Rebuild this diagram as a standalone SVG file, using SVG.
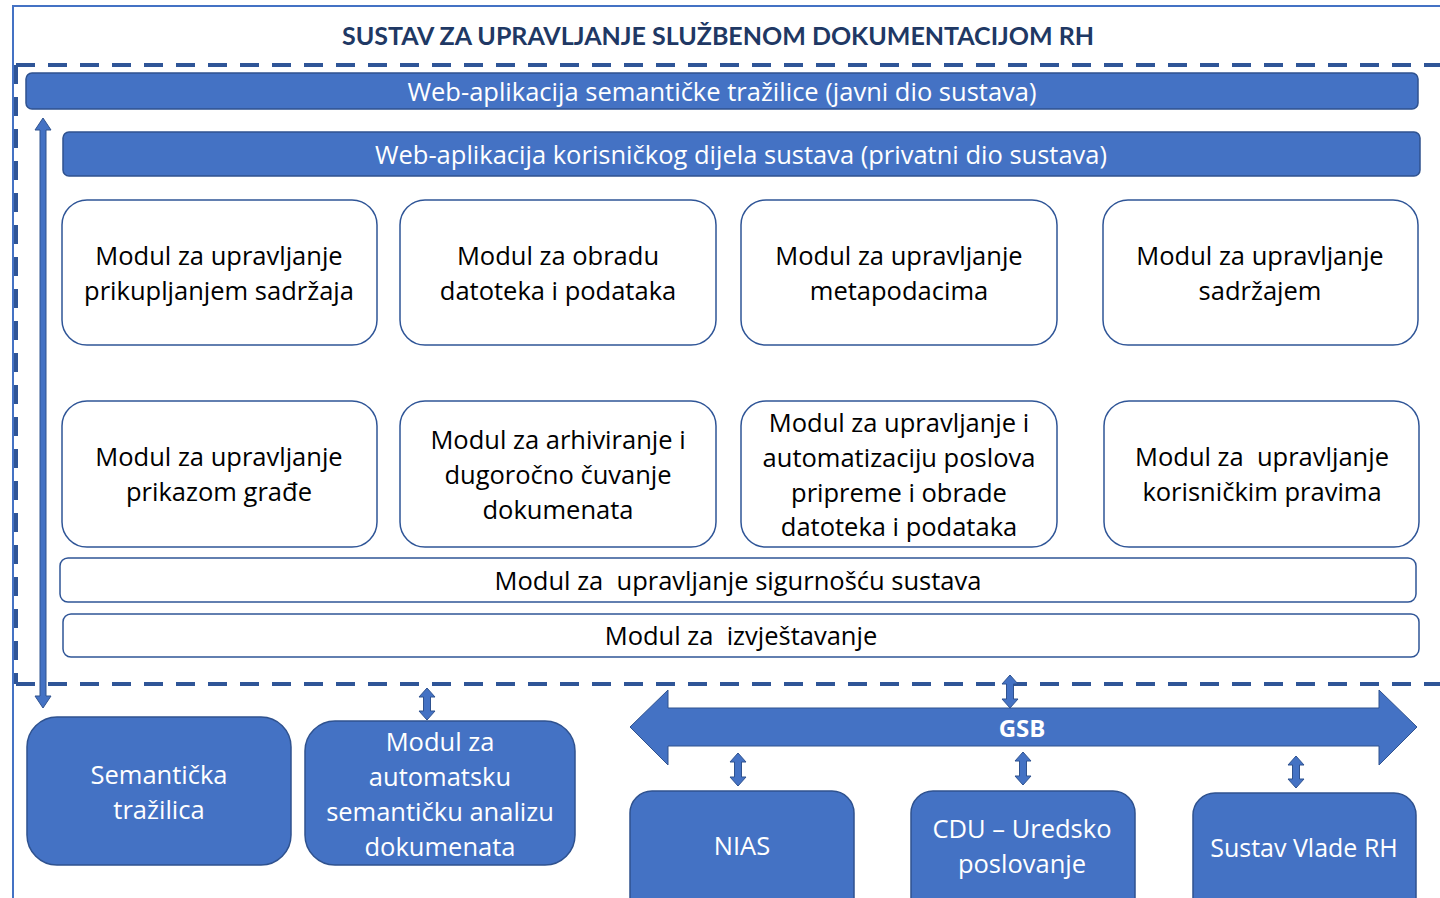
<svg xmlns="http://www.w3.org/2000/svg" width="1440" height="898" viewBox="0 0 1440 898">
<style>
.t{font-family:"Open Sans",Lato,"Liberation Sans",sans-serif;font-size:25.5px;text-anchor:middle;dominant-baseline:central;fill:#000}
.w{fill:#fff}
.bar{fill:#4472C4;stroke:#2F528F;stroke-width:1.5}
.mod{fill:#fff;stroke:#2F5597;stroke-width:1.5}
.blk{fill:#4472C4;stroke:#2F528F;stroke-width:1.5}
.dash{fill:none;stroke:#2F5597;stroke-width:4;stroke-dasharray:19 13}
.arr{fill:#4472C4;stroke:#2F528F;stroke-width:1}
</style>
<rect width="1440" height="898" fill="#fff"/>
<g id="frame">
<path d="M13 898 V6 H1440" fill="none" stroke="#4472C4" stroke-width="2"/>
<path class="dash" d="M16 65 H1440"/>
<path class="dash" d="M16 684 H1440"/>
<path class="dash" d="M16 65 V684"/>
<text class="t" x="718" y="35" style="font-family:Lato,'Open Sans',sans-serif;font-weight:bold;fill:#203864;font-size:25px">SUSTAV ZA UPRAVLJANJE SLUŽBENOM DOKUMENTACIJOM RH</text>
</g>
<g id="web-javni">
<rect class="bar" x="26" y="73" width="1392" height="36" rx="6"/>
<text class="t w" x="722" y="91">Web-aplikacija semantičke tražilice (javni dio sustava)</text>
</g>
<g id="web-privatni">
<rect class="bar" x="63" y="132" width="1357" height="44" rx="6"/>
<text class="t w" x="741" y="154">Web-aplikacija korisničkog dijela sustava (privatni dio sustava)</text>
</g>
<g id="m1"><rect class="mod" x="62" y="200" width="315" height="145" rx="25"/>
<text class="t" x="219" y="255">Modul za upravljanje</text><text class="t" x="219" y="290">prikupljanjem sadržaja</text></g>
<g id="m2"><rect class="mod" x="400" y="200" width="316" height="145" rx="25"/>
<text class="t" x="558" y="255">Modul za obradu</text><text class="t" x="558" y="290">datoteka i podataka</text></g>
<g id="m3"><rect class="mod" x="741" y="200" width="316" height="145" rx="25"/>
<text class="t" x="899" y="255">Modul za upravljanje</text><text class="t" x="899" y="290">metapodacima</text></g>
<g id="m4"><rect class="mod" x="1103" y="200" width="315" height="145" rx="25"/>
<text class="t" x="1260" y="255">Modul za upravljanje</text><text class="t" x="1260" y="290">sadržajem</text></g>
<g id="m5"><rect class="mod" x="62" y="401" width="315" height="146" rx="25"/>
<text class="t" x="219" y="456">Modul za upravljanje</text><text class="t" x="219" y="491">prikazom građe</text></g>
<g id="m6"><rect class="mod" x="400" y="401" width="316" height="146" rx="25"/>
<text class="t" x="558" y="439">Modul za arhiviranje i</text><text class="t" x="558" y="474">dugoročno čuvanje</text><text class="t" x="558" y="509">dokumenata</text></g>
<g id="m7"><rect class="mod" x="741" y="401" width="316" height="146" rx="25"/>
<text class="t" x="899" y="422">Modul za upravljanje i</text><text class="t" x="899" y="457">automatizaciju poslova</text><text class="t" x="899" y="492">pripreme i obrade</text><text class="t" x="899" y="526">datoteka i podataka</text></g>
<g id="m8"><rect class="mod" x="1104" y="401" width="315" height="146" rx="25"/>
<text class="t" x="1262" y="456" xml:space="preserve">Modul za  upravljanje</text><text class="t" x="1262" y="491">korisničkim pravima</text></g>
<g id="sigurnost"><rect class="mod" x="60" y="558" width="1356" height="44" rx="8"/>
<text class="t" x="738" y="580" xml:space="preserve">Modul za  upravljanje sigurnošću sustava</text></g>
<g id="izvjestavanje"><rect class="mod" x="63" y="614" width="1356" height="43" rx="8"/>
<text class="t" x="741" y="635" xml:space="preserve">Modul za  izvještavanje</text></g>
<g id="semanticka"><rect class="blk" x="27" y="717" width="264" height="148" rx="30"/>
<text class="t w" x="159" y="774">Semantička</text><text class="t w" x="159" y="809">tražilica</text></g>
<g id="analiza"><rect class="blk" x="305" y="721" width="270" height="144" rx="30"/>
<text class="t w" x="440" y="741">Modul za</text><text class="t w" x="440" y="776">automatsku</text><text class="t w" x="440" y="811">semantičku analizu</text><text class="t w" x="440" y="846">dokumenata</text></g>
<g id="gsb"><path class="arr" d="M630 727 L668 690 V708 H1379 V690 L1417 727 L1379 765 V746 H668 V765 Z"/>
<text class="t w" x="1022" y="727" style="font-weight:bold;font-size:24px">GSB</text></g>
<g id="nias"><rect class="blk" x="630" y="791" width="224" height="130" rx="22"/>
<text class="t w" x="742" y="845">NIAS</text></g>
<g id="cdu"><rect class="blk" x="911" y="791" width="224" height="130" rx="22"/>
<text class="t w" x="1022" y="828">CDU – Uredsko</text><text class="t w" x="1022" y="863">poslovanje</text></g>
<g id="vlada"><rect class="blk" x="1193" y="793" width="223" height="130" rx="22"/>
<text class="t w" x="1304" y="847" style="font-size:25px">Sustav Vlade RH</text></g>
<g id="connectors">
<path class="arr" d="M43 118 L51 130 H46 V696 H51 L43 708 L35 696 H40 V130 H35 Z"/>
<path class="arr" d="M427 688 L435 697 H430.5 V711 H435 L427 720 L419 711 H423.5 V697 H419 Z"/>
<path class="arr" d="M1010 675 L1018 684 H1013.5 V699 H1018 L1010 708 L1002 699 H1006.5 V684 H1002 Z"/>
<path class="arr" d="M738 753 L746 762 H741.5 V777 H746 L738 786 L730 777 H734.5 V762 H730 Z"/>
<path class="arr" d="M1023 752 L1031 761 H1026.5 V776 H1031 L1023 785 L1015 776 H1019.5 V761 H1015 Z"/>
<path class="arr" d="M1296 756 L1304 765 H1299.5 V779 H1304 L1296 788 L1288 779 H1292.5 V765 H1288 Z"/>
</g>
</svg>
